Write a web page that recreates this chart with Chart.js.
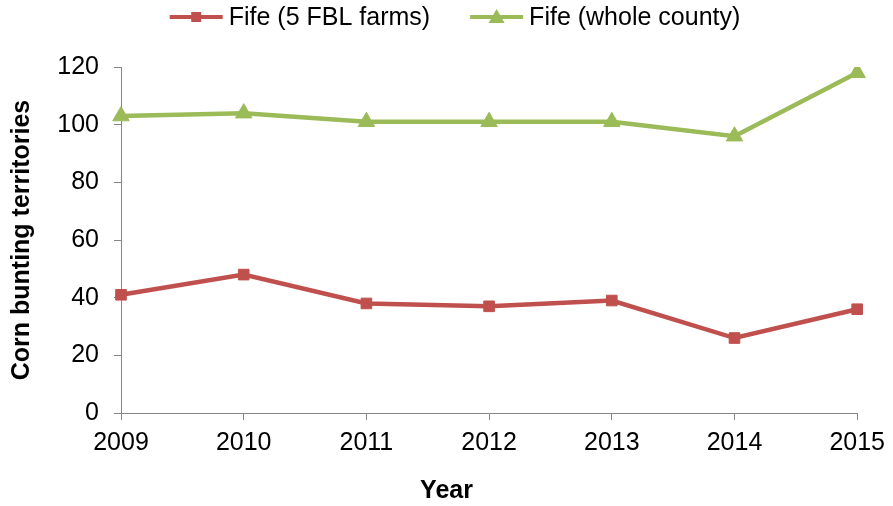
<!DOCTYPE html>
<html>
<head>
<meta charset="utf-8">
<script src="https://cdn.jsdelivr.net/npm/chart.js@4"></script>
<style>
  html, body { margin: 0; padding: 0; background: #fff; }
  #wrap { width: 893px; height: 506px; position: relative; }
</style>
</head>
<body>
<div id="wrap"><canvas id="c" width="893" height="506"></canvas></div>
<script>
const years = ['2009', '2010', '2011', '2012', '2013', '2014', '2015'];
const fbl = [41, 48, 38, 37, 39, 26, 36];
const county = [103, 104, 101, 101, 101, 96, 118];
const seriesNames = ['Fife (5 FBL farms)', 'Fife (whole county)'];
const yTitle = 'Corn bunting territories';
const xTitle = 'Year';

const RED = '#C0504D';
const GREEN = '#9BBB59';
const AXIS = '#868686';
const FONT = '"Liberation Sans", Arial, sans-serif';

const customText = {
  id: 'customText',
  afterDraw(chart) {
    const ctx = chart.ctx;
    ctx.save();
    // legend
    ctx.font = '25px ' + FONT;
    ctx.textBaseline = 'middle';
    ctx.textAlign = 'left';
    const lineLen = 53, gapText = 6, gapItem = 40;
    const items = chart.data.datasets.map(d => ({
      label: d.label, color: d.borderColor, style: d.pointStyle,
      w: ctx.measureText(d.label).width
    }));
    let total = 0;
    items.forEach((it, i) => { total += lineLen + gapText + it.w + (i ? gapItem : 0); });
    let x = 455 - total / 2;
    const cy = 17;
    items.forEach((it, i) => {
      if (i) x += gapItem;
      ctx.strokeStyle = it.color;
      ctx.lineWidth = 4;
      ctx.beginPath();
      ctx.moveTo(x, cy);
      ctx.lineTo(x + lineLen, cy);
      ctx.stroke();
      ctx.fillStyle = it.color;
      const mx = x + lineLen / 2;
      if (it.style === 'rect') {
        ctx.fillRect(mx - 5, cy - 5, 10, 10);
      } else {
        ctx.beginPath();
        ctx.moveTo(mx, cy - 8);
        ctx.lineTo(mx + 8, cy + 6);
        ctx.lineTo(mx - 8, cy + 6);
        ctx.closePath();
        ctx.fill();
      }
      ctx.fillStyle = '#000';
      ctx.fillText(it.label, x + lineLen + gapText, cy + 1);
      x += lineLen + gapText + it.w;
    });
    // x axis title
    ctx.font = 'bold 25px ' + FONT;
    ctx.textAlign = 'center';
    ctx.fillStyle = '#000';
    ctx.fillText(xTitle, chart.width / 2, 491);
    ctx.restore();
  }
};

new Chart(document.getElementById('c'), {
  type: 'line',
  data: {
    labels: years,
    datasets: [
      {
        label: seriesNames[0],
        data: fbl,
        borderColor: RED,
        backgroundColor: RED,
        borderWidth: 4.5,
        pointStyle: 'rect',
        pointRadius: 7.5,
        pointBorderWidth: 1,
        tension: 0
      },
      {
        label: seriesNames[1],
        data: county,
        borderColor: GREEN,
        backgroundColor: GREEN,
        borderWidth: 4.5,
        pointStyle: 'triangle',
        pointRadius: 9.5,
        pointBorderWidth: 1,
        tension: 0
      }
    ]
  },
  options: {
    responsive: false,
    animation: false,
    events: [],
    layout: { padding: { top: 67, right: 35, left: 0, bottom: 0 } },
    plugins: {
      legend: { display: false },
      tooltip: { enabled: false },
      title: { display: false }
    },
    scales: {
      x: {
        type: 'category',
        offset: false,
        afterFit(scale) { scale.height = 93; },
        border: { color: AXIS, width: 1 },
        grid: { drawOnChartArea: false, color: AXIS, tickColor: AXIS, tickLength: 7 },
        ticks: {
          color: '#000',
          font: { family: FONT, size: 25 },
          padding: 8,
          maxRotation: 0,
          autoSkip: false
        }
      },
      y: {
        min: 0,
        max: 120,
        afterFit(scale) { scale.width = 121; },
        border: { color: AXIS, width: 1 },
        grid: { drawOnChartArea: false, color: AXIS, tickColor: AXIS, tickLength: 7 },
        ticks: {
          stepSize: 20,
          color: '#000',
          font: { family: FONT, size: 25 },
          padding: 15
        },
        title: {
          display: true,
          text: yTitle,
          color: '#000',
          font: { family: FONT, size: 25, weight: 'bold' },
          padding: { top: 7, bottom: 0 }
        }
      }
    }
  },
  plugins: [customText]
});
</script>
</body>
</html>
